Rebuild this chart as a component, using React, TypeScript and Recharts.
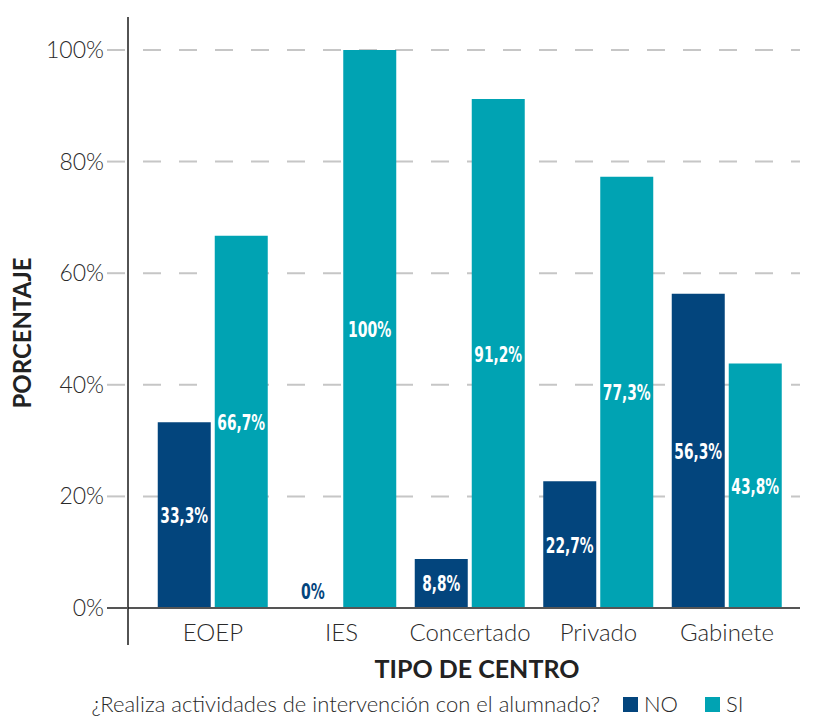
import { BarChart, Bar, XAxis, YAxis, CartesianGrid, ReferenceLine, ReferenceDot, LabelList, Legend } from 'recharts';

const categories = ['EOEP', 'IES', 'Concertado', 'Privado', 'Gabinete'];
const noValues = [33.3, 0, 8.8, 22.7, 56.3];
const siValues = [66.7, 100, 91.2, 77.3, 43.8];
const yTicks = [0, 20, 40, 60, 80, 100];

const Y_DOMAIN: [number, number] = [-6.63, 105.91];

const NO_COLOR = '#03457d';
const SI_COLOR = '#00a3b3';
const LIGHT_FONT = 'Lato, "Open Sans", sans-serif';
const BOLD_FONT = 'Lato, "Open Sans", sans-serif';
const NARROW_FONT = '"DejaVu Sans Condensed", "DejaVu Sans", sans-serif';

const data = categories.map((centro, i) => ({ centro, no: noValues[i], si: siValues[i] }));

const fmt = (v: number) => `${String(v).replace('.', ',')}%`;

// the value labels are a very condensed face, squeeze them to about its width
const labelWidth = (s: string) =>
  s.split('').reduce((w, ch) => w + (ch === '%' ? 14 : ch === ',' ? 4.5 : 9.8), 0);

function ValueText({ cx, cy, value, color }: { cx: number; cy: number; value: number; color: string }) {
  const s = fmt(value);
  return (
    <text
      x={cx}
      y={cy}
      dy={8}
      textAnchor="middle"
      textLength={labelWidth(s)}
      lengthAdjust="spacingAndGlyphs"
      fontFamily={NARROW_FONT}
      fontWeight="bold"
      fontSize={22}
      fill={color}
    >
      {s}
    </text>
  );
}

function YTick(props: any) {
  const { x, y, payload } = props;
  const isZero = payload.value === 0;
  return (
    <g>
      <line x1={x - 21} x2={isZero ? x : x - 3} y1={y} y2={y} stroke={isZero ? '#555' : '#c6c6c6'} strokeWidth={2} />
      <text x={x - 24} y={y} dy={8} textAnchor="end" fontFamily={LIGHT_FONT} fontWeight={300} fontSize={23} fill="#2a2a2a">
        {payload.value}%
      </text>
    </g>
  );
}

function XTick(props: any) {
  const { x, y, payload } = props;
  return (
    <text x={x} y={y - 4} textAnchor="middle" fontFamily={LIGHT_FONT} fontWeight={300} fontSize={24} fill="#2a2a2a">
      {payload.value}
    </text>
  );
}

function valueLabel(props: any) {
  const { x, y, width, height, value } = props;
  return <ValueText cx={x + width / 2} cy={y + height / 2} value={value} color="#fff" />;
}

function YTitle(props: any) {
  const vb = props.viewBox || { x: 0, y: 17, width: 128, height: 628 };
  const cx = vb.x + 22;
  const cy = vb.y + vb.height / 2 + 2;
  return (
    <text x={cx} y={cy} dy={9} textAnchor="middle" transform={`rotate(-90, ${cx}, ${cy})`} fontFamily={BOLD_FONT} fontWeight="bold" fontSize={24} fill="#222">
      PORCENTAJE
    </text>
  );
}

function XTitle(props: any) {
  const vb = props.viewBox || { x: 128, y: 645, width: 672, height: 73 };
  const cx = vb.x + vb.width / 2 + 13;
  return (
    <text x={cx} y={vb.y + 33} textAnchor="middle" fontFamily={BOLD_FONT} fontWeight="bold" fontSize={25} fill="#222">
      TIPO DE CENTRO
    </text>
  );
}

function LegendContent(props: any) {
  const items = props.payload || [];
  return (
    <div style={{ display: 'flex', justifyContent: 'center', alignItems: 'center', paddingLeft: 20, fontFamily: LIGHT_FONT, fontWeight: 300, fontSize: 22, color: '#2a2a2a', lineHeight: '22px', height: 22 }}>
      <span style={{ marginRight: 23 }}>¿Realiza actividades de intervención con el alumnado?</span>
      {items.map((item: any, i: number) => (
        <span key={item.value} style={{ display: 'flex', alignItems: 'center', marginRight: i < items.length - 1 ? 27 : 0 }}>
          <span style={{ width: 15, height: 15, background: item.color, marginRight: 6, display: 'inline-block' }} />
          {item.value}
        </span>
      ))}
    </div>
  );
}

// grid only at the percentage ticks, not at the stretched domain ends
function gridRows(props: any) {
  const { yAxis, offset } = props;
  if (yAxis && typeof yAxis.scale === 'function') return yTicks.map((t) => yAxis.scale(t));
  const [lo, hi] = Y_DOMAIN;
  return yTicks.map((t) => offset.top + ((hi - t) / (hi - lo)) * offset.height);
}

export default function App() {
  return (
    <div style={{ position: 'absolute', left: 0, top: 0, background: '#fff' }}>
      <BarChart width={815} height={718} data={data} barGap={4} margin={{ top: 17, right: 15, left: 0, bottom: 0 }}>
        <CartesianGrid
          vertical={false}
          stroke="#c6c6c6"
          strokeWidth={2}
          strokeDasharray="18 18"
          strokeDashoffset={21}
          horizontalCoordinatesGenerator={gridRows}
        />
        <XAxis
          dataKey="centro"
          height={73}
          padding={{ left: 20.75, right: 8.75 }}
          axisLine={false}
          tickLine={false}
          tickSize={0}
          tickMargin={0}
          tick={<XTick />}
          interval={0}
          label={XTitle}
        />
        <YAxis
          width={128}
          type="number"
          domain={Y_DOMAIN}
          allowDataOverflow
          ticks={yTicks}
          axisLine={{ stroke: '#1a1a1a', strokeWidth: 1.5 }}
          tickLine={false}
          tickSize={0}
          tickMargin={0}
          tick={<YTick />}
          label={YTitle}
        />
        <Legend
          layout="horizontal"
          verticalAlign="middle"
          align="center"
          content={<LegendContent />}
          wrapperStyle={{ top: 693, left: 0, width: 815 }}
        />
        <Bar dataKey="no" name="NO" fill={NO_COLOR} barSize={53} isAnimationActive={false}>
          <LabelList dataKey="no" content={valueLabel} />
        </Bar>
        <Bar dataKey="si" name="SI" fill={SI_COLOR} barSize={53} isAnimationActive={false}>
          <LabelList dataKey="si" content={valueLabel} />
        </Bar>
        <ReferenceLine y={0} stroke="#555" strokeWidth={2} />
        {categories.map((c, i) =>
          noValues[i] === 0 ? (
            <ReferenceDot
              key={c}
              x={c}
              y={0}
              r={0}
              shape={(p: any) => <ValueText cx={p.cx - 28.5} cy={p.cy - 17} value={0} color={NO_COLOR} />}
            />
          ) : null
        )}
      </BarChart>
    </div>
  );
}
